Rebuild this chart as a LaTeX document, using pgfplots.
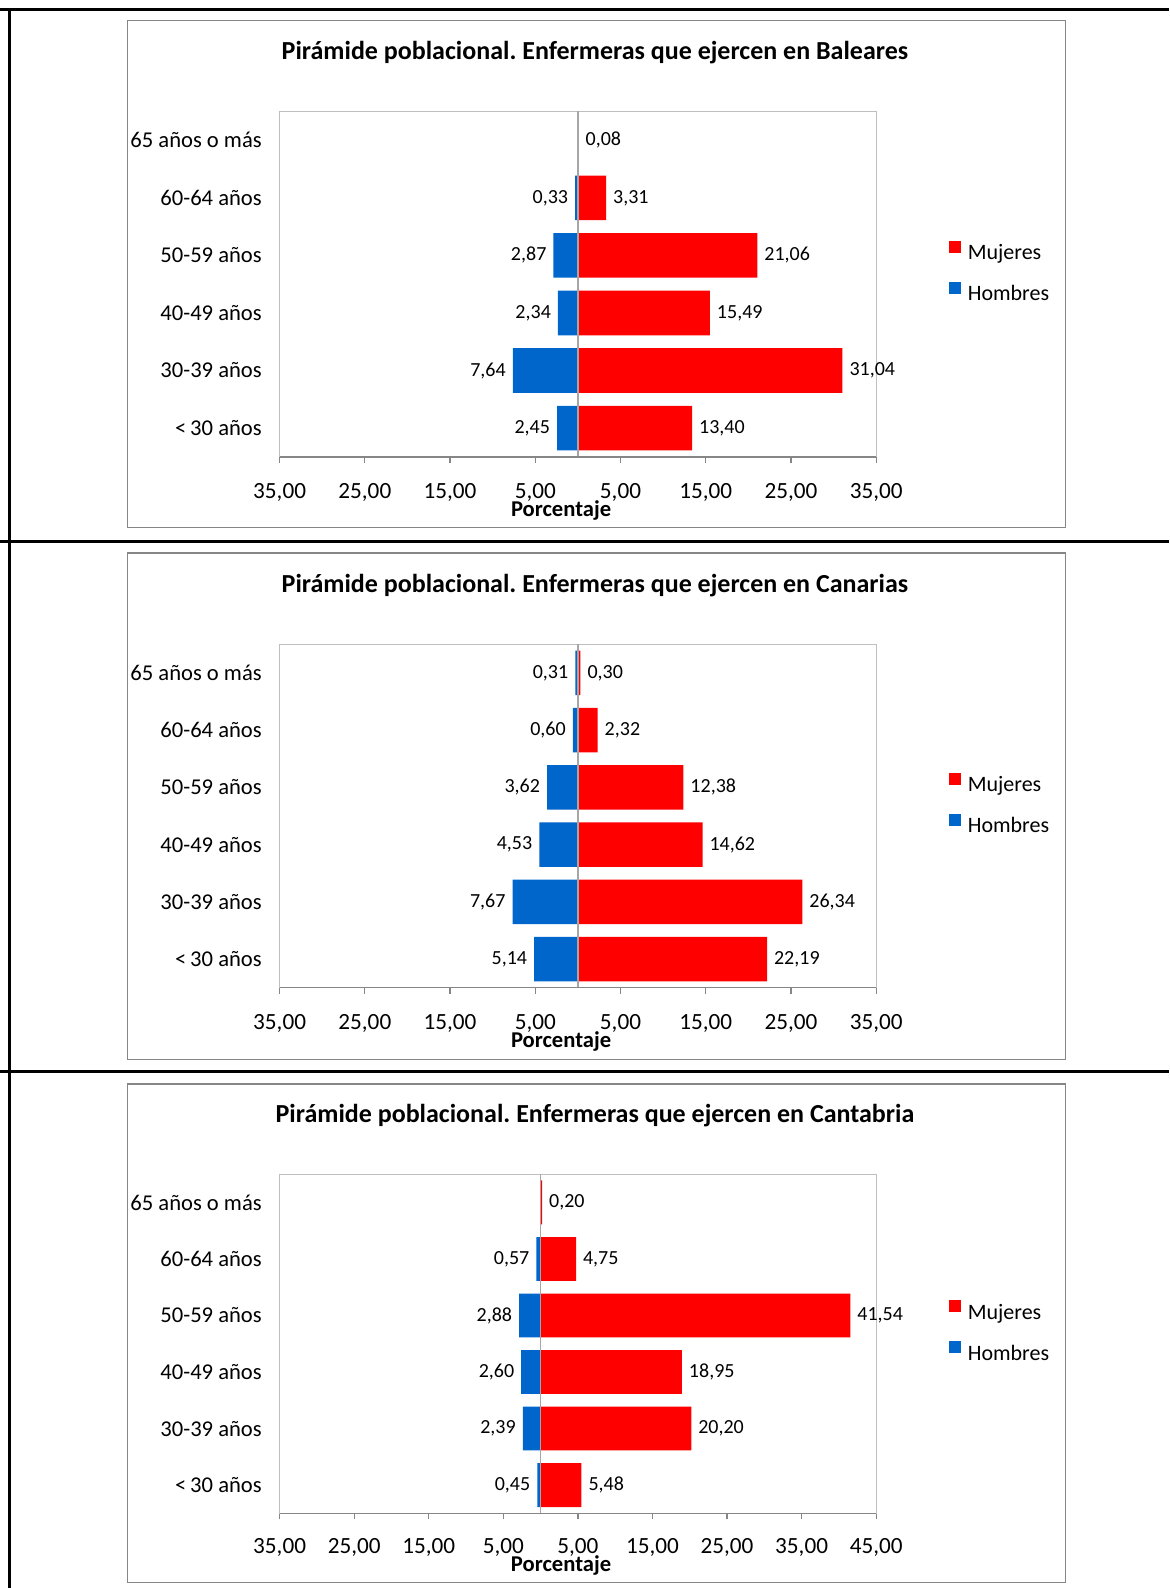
\documentclass[border=0pt]{standalone}
\usepackage{fontspec}
\setmainfont{Carlito}
\usepackage{pgfplots}
\pgfplotsset{compat=1.18}
\usepackage{pgfplotstable}
\frenchspacing

\definecolor{fem}{RGB}{255,0,0}
\definecolor{mas}{RGB}{0,102,204}
\definecolor{boxgray}{RGB}{134,134,134}
\definecolor{plotgray}{RGB}{191,191,191}
\definecolor{axisgray}{RGB}{134,134,134}
\definecolor{zerogray}{RGB}{166,166,166}

% Baleares
\pgfplotstableread{
y v
0 13.40
1 31.04
2 15.49
3 21.06
4 3.31
5 0.08
}\balF
\pgfplotstableread{
y v
0 2.45
1 7.64
2 2.34
3 2.87
4 0.33
}\balM
% Canarias
\pgfplotstableread{
y v
0 22.19
1 26.34
2 14.62
3 12.38
4 2.32
5 0.30
}\canF
\pgfplotstableread{
y v
0 5.14
1 7.67
2 4.53
3 3.62
4 0.60
5 0.31
}\canM
% Cantabria
\pgfplotstableread{
y v
0 5.48
1 20.20
2 18.95
3 41.54
4 4.75
5 0.20
}\ctbF
\pgfplotstableread{
y v
0 0.45
1 2.39
2 2.60
3 2.88
4 0.57
}\ctbM

\pgfplotsset{
  piramide/.style={
    scale only axis,
    width=298.3pt,
    xbar, bar shift=0pt, bar width=0.775,
    ymin=-0.5, ymax=5.5,
    ytick={0,...,5},
    yticklabels={<\,30 años,30-39 años,40-49 años,50-59 años,60-64 años,65 años o más},
    y tick label style={font=\fontsize{11.3}{13}\selectfont, anchor=east, xshift=-2.4pt},
    ytick style={draw=none},
    xticklabel={\pgfmathparse{abs(\tick)}\pgfmathprintnumber[fixed,fixed zerofill,precision=2,use comma]{\pgfmathresult}},
    x tick label style={font=\fontsize{11.6}{13}\selectfont, anchor=base, yshift=-17.7pt},
    /pgf/number format/assume math mode=true,
    xtick pos=left,
    tick align=outside,
    major tick length=3pt,
    xtick style={color=axisgray, line width=0.6pt},
    axis line style={draw=plotgray, line width=0.5pt},
    nodes near coords={\pgfmathprintnumber[fixed,fixed zerofill,precision=2,use comma]{\pgfplotspointmeta}},
    nodes near coords style={font=\fontsize{10}{12}\selectfont, text=black},
    xlabel={\textbf{Porcentaje}},
    xlabel style={font=\fontsize{11.3}{13}\selectfont, at={(axis description cs:0.5,0)}, anchor=center, xshift=-8.4pt},
    clip=false,
    legend cell align=left,
    legend style={at={(axis description cs:1.1207,0.534)}, anchor=west, draw=none, fill=none,
      inner sep=0pt, font=\fontsize{11}{13}\selectfont, row sep=9.2pt,
      nodes={inner sep=0pt, text height=8pt, text depth=2pt},
      /tikz/every odd column/.append style={column sep=3.6pt}},
    every axis plot post/.append style={legend image code/.code={\fill[##1] (0pt,0.3pt) rectangle (6pt,6.3pt);}},
  },
  fplot/.style={fill=fem, draw=none, point meta=\thisrow{v}, every node near coord/.append style={anchor=west}},
  mplot/.style={fill=mas, draw=none, point meta=\thisrow{v}, every node near coord/.append style={anchor=east}},
}

\begin{document}
\begin{tikzpicture}
\useasboundingbox (0,0) rectangle (584.5pt,794pt);
% outer frame
\draw[black, line width=1.5pt] (0,789.25pt) -- (584.5pt,789.25pt);
\draw[black, line width=1.5pt] (4.5pt,0) -- (4.5pt,790pt);
\draw[black, line width=1.5pt] (0,523.05pt) -- (584.5pt,523.05pt);
\draw[black, line width=1.5pt] (0,258.1pt) -- (584.5pt,258.1pt);
% chart boxes
\draw[boxgray, line width=0.7pt] (63.8pt,530.1pt) rectangle (532.8pt,783.85pt);
\draw[boxgray, line width=0.7pt] (63.8pt,264.2pt) rectangle (532.8pt,517.45pt);
\draw[boxgray, line width=0.7pt] (63.8pt,2.85pt) rectangle (532.8pt,252.05pt);
% titles
\node[font=\bfseries\fontsize{13}{15}\selectfont, anchor=base] at (297.5pt,764.3pt) {Pirámide poblacional. Enfermeras que ejercen en Baleares};
\node[font=\bfseries\fontsize{13}{15}\selectfont, anchor=base] at (297.5pt,497.9pt) {Pirámide poblacional. Enfermeras que ejercen en Canarias};
\node[font=\bfseries\fontsize{13}{15}\selectfont, anchor=base] at (297.5pt,232.5pt) {Pirámide poblacional. Enfermeras que ejercen en Cantabria};

% Panel 1
\begin{axis}[piramide, at={(139.8pt,565.55pt)}, anchor=south west, height=172.7pt,
  xmin=-35, xmax=35, xtick={-35,-25,-15,-5,5,15,25,35}, xlabel style={yshift=-26.8pt}]
\addplot[fplot] table[x=v, y=y] {\balF};
\addplot[mplot] table[x expr=-\thisrow{v}, y=y] {\balM};
\legend{Mujeres,Hombres}
\draw[zerogray, line width=0.6pt] (axis cs:0,-0.5) -- (axis cs:0,5.5);
\draw[axisgray, line width=0.75pt] (rel axis cs:0,0) -- (rel axis cs:1,0);
\end{axis}

% Panel 2
\begin{axis}[piramide, at={(139.8pt,300.15pt)}, anchor=south west, height=171.7pt,
  xmin=-35, xmax=35, xtick={-35,-25,-15,-5,5,15,25,35}, xlabel style={yshift=-26.8pt}]
\addplot[fplot] table[x=v, y=y] {\canF};
\addplot[mplot] table[x expr=-\thisrow{v}, y=y] {\canM};
\legend{Mujeres,Hombres}
\draw[zerogray, line width=0.6pt] (axis cs:0,-0.5) -- (axis cs:0,5.5);
\draw[axisgray, line width=0.75pt] (rel axis cs:0,0) -- (rel axis cs:1,0);
\end{axis}

% Panel 3
\begin{axis}[piramide, at={(139.8pt,37.3pt)}, anchor=south west, height=169.65pt,
  xmin=-35, xmax=45, xtick={-35,-25,-15,-5,5,15,25,35,45}, xlabel style={yshift=-25.8pt},
  x tick label style={yshift=0.5pt}]
\addplot[fplot] table[x=v, y=y] {\ctbF};
\addplot[mplot] table[x expr=-\thisrow{v}, y=y] {\ctbM};
\legend{Mujeres,Hombres}
\draw[zerogray, line width=0.6pt] (axis cs:0,-0.5) -- (axis cs:0,5.5);
\draw[axisgray, line width=0.75pt] (rel axis cs:0,0) -- (rel axis cs:1,0);
\end{axis}
\end{tikzpicture}
\end{document}
